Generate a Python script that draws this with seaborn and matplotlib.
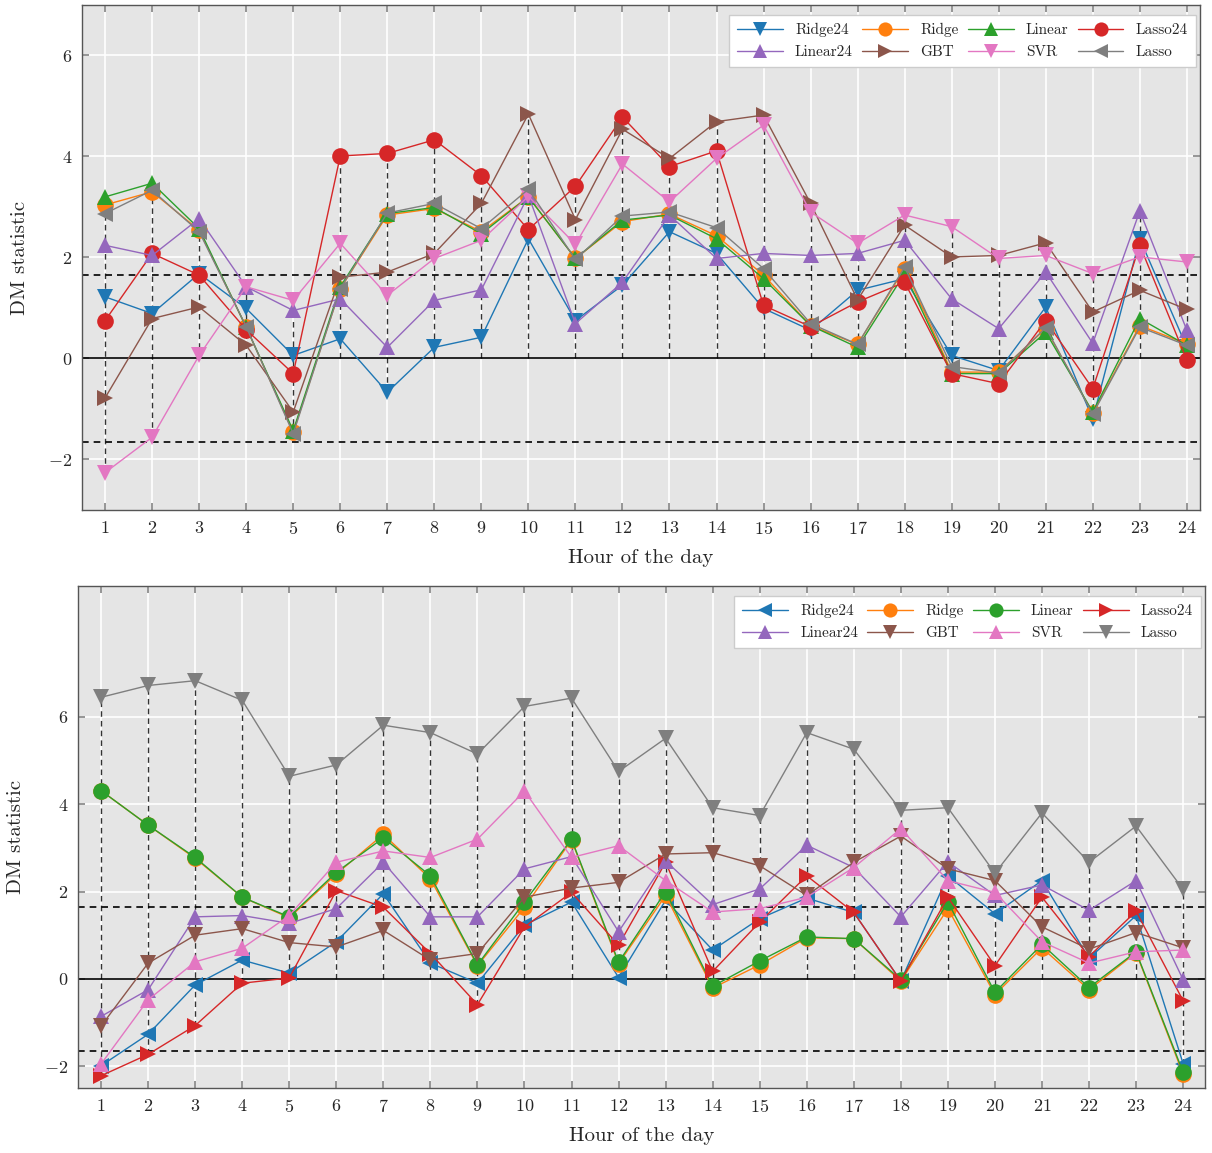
import matplotlib

matplotlib.use("Agg")
import matplotlib.pyplot as plt
import pandas as pd
import seaborn as sns

# hours and model names
hours = list(range(1, 25))
models = ["Ridge24", "Ridge", "Linear", "Lasso24", "Linear24", "GBT", "SVR", "Lasso"]
colors = {
    "Ridge24": "#1f77b4", "Ridge": "#ff7f0e", "Linear": "#2ca02c", "Lasso24": "#d62728",
    "Linear24": "#9467bd", "GBT": "#8c564b", "SVR": "#e377c2", "Lasso": "#7f7f7f",
}
top_markers = {"Ridge24": "v", "Ridge": "o", "Linear": "^", "Lasso24": "o",
               "Linear24": "^", "GBT": ">", "SVR": "v", "Lasso": "<"}
bottom_markers = {"Ridge24": "<", "Ridge": "o", "Linear": "o", "Lasso24": ">",
                  "Linear24": "^", "GBT": "v", "SVR": "^", "Lasso": "v"}

# top panel
top_ridge24 = [1.22, 0.89, 1.68, 0.99, 0.06, 0.39, -0.67, 0.22, 0.42, 2.37, 0.75, 1.45,
               2.51, 2.08, 0.99, 0.56, 1.35, 1.58, 0.06, -0.24, 1.02, -1.20, 2.37, 0.22]
top_ridge = [3.04, 3.30, 2.54, 0.62, -1.46, 1.38, 2.84, 2.97, 2.51, 3.20, 1.98, 2.71,
             2.86, 2.43, 1.65, 0.65, 0.28, 1.78, -0.27, -0.27, 0.59, -1.08, 0.65, 0.29]
top_linear = [3.20, 3.47, 2.57, 0.62, -1.43, 1.42, 2.87, 2.99, 2.47, 3.20, 1.98, 2.74,
              2.84, 2.37, 1.58, 0.65, 0.22, 1.68, -0.30, -0.30, 0.52, -1.06, 0.79, 0.26]
top_lasso24 = [0.75, 2.08, 1.65, 0.57, -0.30, 4.01, 4.06, 4.33, 3.62, 2.55, 3.41, 4.78,
               3.80, 4.11, 1.05, 0.63, 1.12, 1.51, -0.30, -0.50, 0.75, -0.60, 2.24, -0.03]
top_linear24 = [2.24, 2.04, 2.77, 1.42, 0.95, 1.18, 0.22, 1.15, 1.36, 3.23, 0.69, 1.51,
                2.84, 1.98, 2.08, 2.04, 2.08, 2.34, 1.18, 0.59, 1.71, 0.30, 2.92, 0.56]
top_gbt = [-0.78, 0.79, 1.02, 0.26, -1.06, 1.61, 1.71, 2.08, 3.07, 4.84, 2.75, 4.54,
           3.96, 4.69, 4.82, 3.07, 1.16, 2.64, 2.01, 2.04, 2.29, 0.92, 1.35, 0.97]
top_svr = [-2.26, -1.56, 0.06, 1.42, 1.15, 2.28, 1.25, 1.98, 2.34, 3.21, 2.26, 3.85,
           3.10, 3.96, 4.62, 2.90, 2.28, 2.84, 2.61, 1.98, 2.04, 1.68, 2.01, 1.91]
top_lasso = [2.87, 3.33, 2.51, 0.63, -1.49, 1.38, 2.88, 3.07, 2.57, 3.35, 1.96, 2.82,
             2.90, 2.59, 1.78, 0.69, 0.28, 1.81, -0.16, -0.29, 0.61, -1.10, 0.62, 0.26]

# bottom panel
bot_ridge24 = [-1.99, -1.27, -0.14, 0.43, 0.13, 0.85, 1.95, 0.36, -0.10, 1.23, 1.76, 0.03,
               1.80, 0.66, 1.38, 1.85, 1.52, -0.05, 2.36, 1.49, 2.25, 0.47, 1.45, -1.94]
bot_ridge = [4.31, 3.52, 2.76, 1.87, 1.40, 2.40, 3.31, 2.29, 0.30, 1.64, 3.18, 0.35,
             1.91, -0.21, 0.32, 0.94, 0.92, -0.05, 1.61, -0.36, 0.71, -0.25, 0.60, -2.18]
bot_linear = [4.31, 3.52, 2.78, 1.87, 1.42, 2.44, 3.23, 2.36, 0.32, 1.76, 3.20, 0.38,
              2.00, -0.17, 0.41, 0.96, 0.92, -0.02, 1.76, -0.31, 0.79, -0.20, 0.62, -2.14]
bot_lasso24 = [-2.22, -1.73, -1.07, -0.10, 0.02, 2.02, 1.64, 0.58, -0.59, 1.19, 1.98, 0.77,
               2.67, 0.17, 1.30, 2.36, 1.52, -0.05, 1.87, 0.30, 1.87, 0.51, 1.55, -0.50]
bot_linear24 = [-0.86, -0.25, 1.42, 1.45, 1.27, 1.61, 2.67, 1.42, 1.42, 2.52, 2.80, 1.08,
                2.70, 1.70, 2.06, 3.06, 2.55, 1.42, 2.68, 1.91, 2.15, 1.57, 2.25, -0.02]
bot_gbt = [-1.08, 0.36, 1.00, 1.15, 0.83, 0.73, 1.11, 0.43, 0.58, 1.87, 2.08, 2.21,
           2.86, 2.89, 2.59, 1.91, 2.67, 3.27, 2.52, 2.25, 1.19, 0.68, 1.06, 0.71]
bot_svr = [-1.95, -0.48, 0.39, 0.70, 1.45, 2.67, 2.93, 2.78, 3.20, 4.30, 2.78, 3.05,
           2.25, 1.53, 1.61, 1.87, 2.55, 3.44, 2.25, 1.98, 0.85, 0.36, 0.62, 0.66]
bot_lasso = [6.45, 6.72, 6.83, 6.38, 4.64, 4.90, 5.81, 5.64, 5.15, 6.24, 6.43, 4.75,
             5.51, 3.92, 3.74, 5.64, 5.26, 3.86, 3.92, 2.42, 3.80, 2.67, 3.50, 2.05]

top_series = [top_ridge24, top_ridge, top_linear, top_lasso24,
              top_linear24, top_gbt, top_svr, top_lasso]
bot_series = [bot_ridge24, bot_ridge, bot_linear, bot_lasso24,
              bot_linear24, bot_gbt, bot_svr, bot_lasso]

sns.set_theme(style="darkgrid")
plt.rcParams.update({
    "axes.facecolor": "#e5e5e5",
    "axes.edgecolor": "#555555",
    "axes.linewidth": 1.0,
    "grid.color": "white",
    "grid.linewidth": 1.2,
    "font.family": "serif",
    "font.serif": ["cmr10"],
    "mathtext.fontset": "cm",
    "axes.formatter.use_mathtext": True,
})


def long_table(series):
    rows = []
    for name, vals in zip(models, series):
        for h, v in zip(hours, vals):
            rows.append({"hour": h, "dm": v, "model": name})
    return pd.DataFrame(rows)


def draw_panel(ax, series, markers, ylim, xlim):
    df = long_table(series)
    sns.lineplot(data=df, x="hour", y="dm", hue="model", style="model",
                 hue_order=models, style_order=models, palette=colors,
                 markers=markers, dashes=False, markersize=12, linewidth=1,
                 markeredgewidth=0, errorbar=None, legend=False, ax=ax)
    handles = list(ax.lines[:len(models)])

    # dashed stems spanning the values at each hour
    lo = df.groupby("hour")["dm"].min().clip(upper=0)
    hi = df.groupby("hour")["dm"].max().clip(lower=0)
    ax.vlines(lo.index, lo.values, hi.values, colors="#333333",
              linestyles=(0, (4, 3)), linewidth=1, zorder=1.5)
    ax.axhline(0, color="black", linewidth=1.2, zorder=1.6)
    for c in (1.645, -1.645):
        ax.axhline(c, color="black", linewidth=1.2, linestyle=(0, (4, 3)), zorder=1.6)

    ax.set_xlim(*xlim)
    ax.set_ylim(*ylim)
    ax.set_xticks(hours)
    ax.set_yticks([-2, 0, 2, 4, 6])
    ax.tick_params(axis="both", labelsize=13, direction="in", length=5, pad=7,
                   color="#888888", bottom=True, left=True, top=True, right=True)
    ax.set_xlabel("Hour of the day", fontsize=15, labelpad=9)
    ax.set_ylabel("DM statistic", fontsize=15, labelpad=14)
    for s in ax.spines.values():
        s.set_visible(True)
        s.set_color("#555555")

    # legend filled row by row (matplotlib fills columns)
    order = [0, 4, 1, 5, 2, 6, 3, 7]
    leg = ax.legend([handles[i] for i in order], [models[i] for i in order],
                    ncol=4, loc="upper right", bbox_to_anchor=(0.996, 0.98),
                    fontsize=11, handlelength=3.0, columnspacing=0.6,
                    handletextpad=0.8, labelspacing=0.55, borderpad=0.5,
                    markerscale=0.85, fancybox=False, framealpha=1,
                    edgecolor="#cccccc", borderaxespad=0.0)
    leg.get_frame().set_facecolor("white")


fig = plt.figure(figsize=(12.12, 11.53), dpi=100)
ax_top = fig.add_axes([0.0677, 0.5577, 0.9224, 0.438])
ax_bot = fig.add_axes([0.0644, 0.0564, 0.930, 0.4354])

draw_panel(ax_top, top_series, top_markers, (-3, 7), (0.51, 24.28))
draw_panel(ax_bot, bot_series, bottom_markers, (-2.5, 9), (0.51, 24.47))

fig.savefig("out.png", dpi=100)
